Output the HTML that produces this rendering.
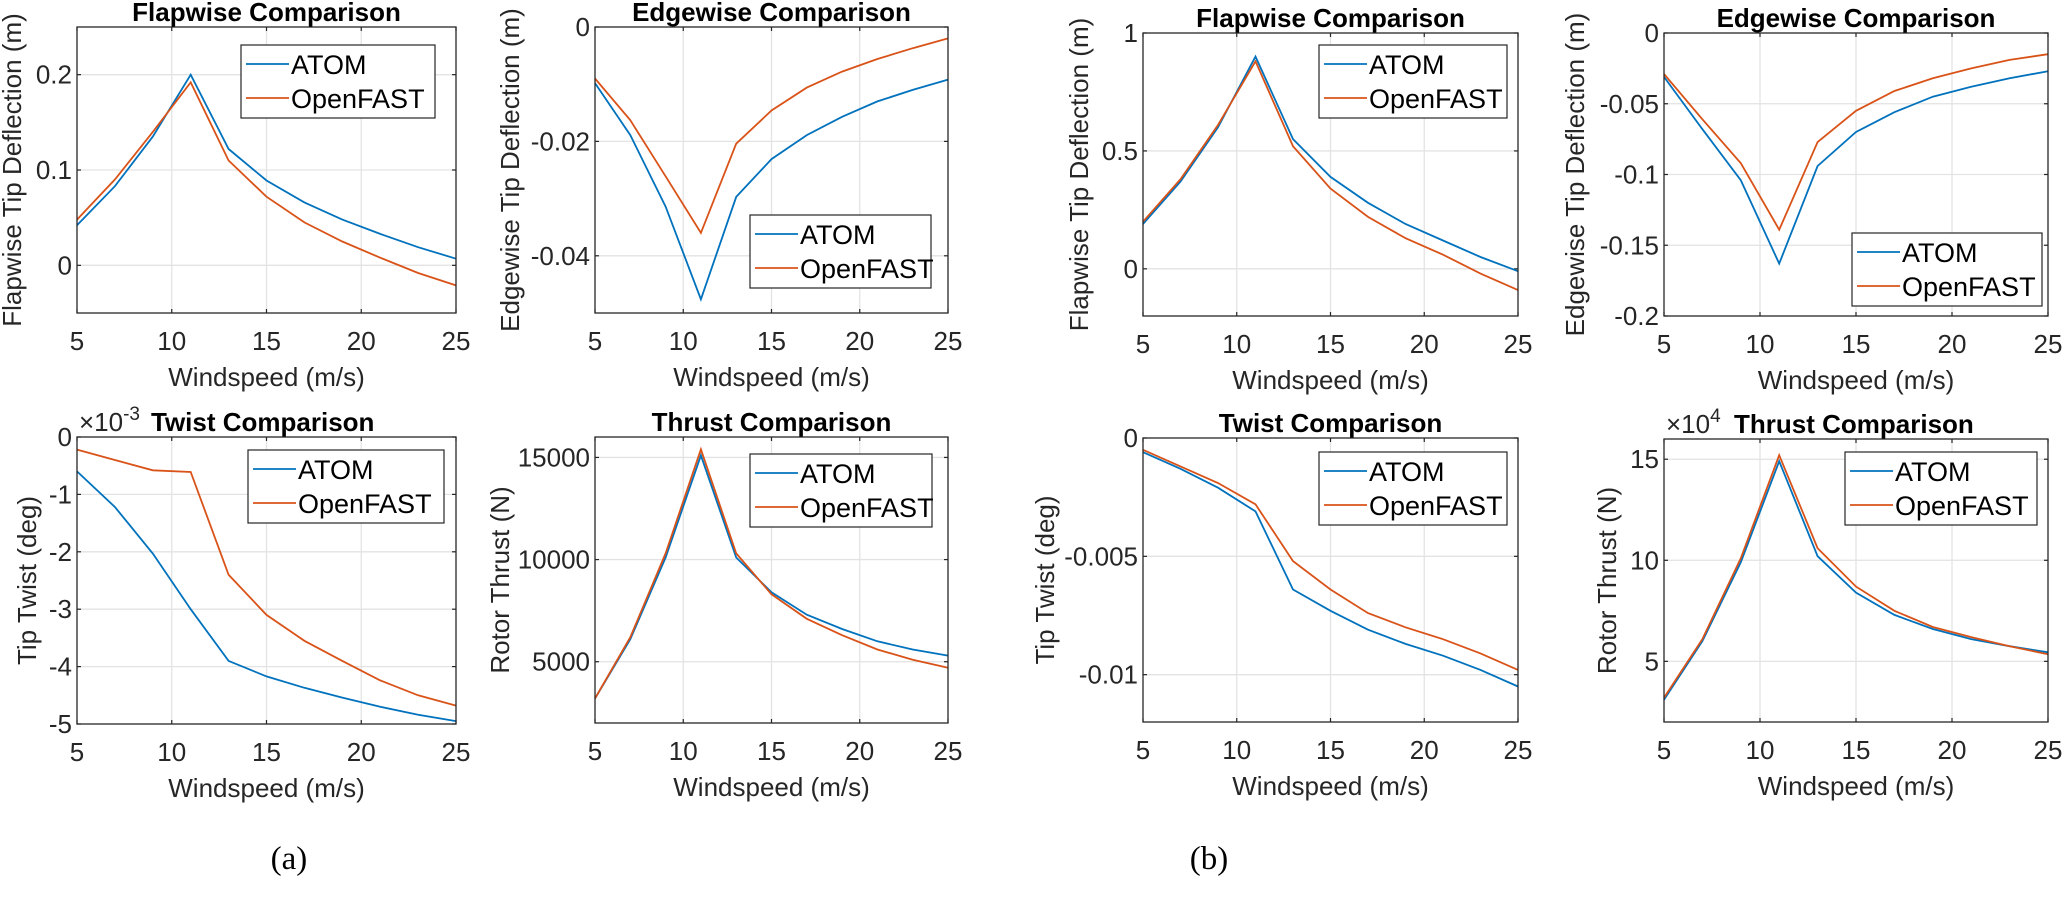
<!DOCTYPE html>
<html><head><meta charset="utf-8"><style>
html,body{margin:0;padding:0;background:#fff;}
svg{display:block;font-family:"Liberation Sans",Arial,sans-serif;}
</style></head><body>
<svg id="fig" width="2067" height="898" viewBox="0 0 2067 898" xmlns="http://www.w3.org/2000/svg">
<text x="289" y="869" font-family="Liberation Serif,serif" font-size="33" text-anchor="middle">(a)</text>
<text x="1209" y="869" font-family="Liberation Serif,serif" font-size="33" text-anchor="middle">(b)</text>
</svg>
<script>
const windspeed = [5,7,9,11,13,15,17,19,21,23,25];
const xTicks = [5,10,15,20,25];
// (a) flapwise
const flapA_atom = [0.042,0.083,0.135,0.200,0.122,0.089,0.066,0.048,0.033,0.019,0.007];
const flapA_of   = [0.048,0.090,0.140,0.192,0.110,0.072,0.045,0.025,0.008,-0.008,-0.021];
const flapA_ticks = [0,0.1,0.2];
// (a) edgewise
const edgeA_atom = [-0.0098,-0.0189,-0.0314,-0.0476,-0.0297,-0.0231,-0.0189,-0.0157,-0.013,-0.011,-0.0092];
const edgeA_of   = [-0.009,-0.0163,-0.0261,-0.036,-0.0204,-0.0146,-0.0106,-0.0078,-0.0056,-0.0037,-0.002];
const edgeA_ticks = [-0.04,-0.02,0];
// (a) twist (x1e-3)
const twistA_atom = [-0.6,-1.22,-2.03,-3.0,-3.9,-4.17,-4.37,-4.54,-4.70,-4.84,-4.95];
const twistA_of   = [-0.22,-0.4,-0.58,-0.61,-2.4,-3.1,-3.55,-3.9,-4.24,-4.5,-4.68];
const twistA_ticks = [-5,-4,-3,-2,-1,0];
// (a) thrust
const thrustA_atom = [3200,6100,10100,15100,10100,8400,7300,6600,6000,5600,5300];
const thrustA_of   = [3200,6200,10300,15400,10300,8300,7100,6300,5600,5100,4700];
const thrustA_ticks = [5000,10000,15000];
// (b) flapwise
const flapB_atom = [0.19,0.37,0.60,0.90,0.55,0.39,0.28,0.19,0.12,0.05,-0.01];
const flapB_of   = [0.20,0.38,0.61,0.88,0.52,0.34,0.22,0.13,0.06,-0.02,-0.09];
const flapB_ticks = [0,0.5,1];
// (b) edgewise
const edgeB_atom = [-0.031,-0.068,-0.104,-0.163,-0.094,-0.070,-0.056,-0.045,-0.038,-0.032,-0.027];
const edgeB_of   = [-0.029,-0.061,-0.092,-0.139,-0.077,-0.055,-0.041,-0.032,-0.025,-0.019,-0.015];
const edgeB_ticks = [-0.2,-0.15,-0.1,-0.05,0];
// (b) twist
const twistB_atom = [-0.0006,-0.0013,-0.0021,-0.0031,-0.0064,-0.0073,-0.0081,-0.0087,-0.0092,-0.0098,-0.0105];
const twistB_of   = [-0.0005,-0.0012,-0.0019,-0.0028,-0.0052,-0.0064,-0.0074,-0.0080,-0.0085,-0.0091,-0.0098];
const twistB_ticks = [-0.01,-0.005,0];
// (b) thrust (x1e4)
const thrustB_atom = [3.1,6.0,9.9,14.9,10.2,8.4,7.3,6.6,6.1,5.75,5.45];
const thrustB_of   = [3.2,6.1,10.1,15.2,10.6,8.7,7.5,6.7,6.2,5.75,5.35];
const thrustB_ticks = [5,10,15];

const NS="http://www.w3.org/2000/svg";
const svg=document.getElementById('fig');
function mk(tag,attrs,parent){const e=document.createElementNS(NS,tag);for(const k in attrs)e.setAttribute(k,attrs[k]);(parent||svg).appendChild(e);return e;}
const FS=26;

const panels=[
 {id:'flap-a',L:77,R:456,T:27,B:313,ymin:-0.05,ymax:0.25,ticks:flapA_ticks,a:flapA_atom,o:flapA_of,title:'Flapwise Comparison',ylab:'Flapwise Tip Deflection (m)',ylx:12,leg:[241,45,194]},
 {id:'edge-a',L:595,R:948,T:27,B:313,ymin:-0.05,ymax:0,ticks:edgeA_ticks,a:edgeA_atom,o:edgeA_of,title:'Edgewise Comparison',ylab:'Edgewise Tip Deflection (m)',ylx:510,leg:[750,215,181]},
 {id:'flap-b',L:1143,R:1518,T:33,B:316,ymin:-0.2,ymax:1,ticks:flapB_ticks,a:flapB_atom,o:flapB_of,title:'Flapwise Comparison',ylab:'Flapwise Tip Deflection (m)',ylx:1079,leg:[1319,45,188]},
 {id:'edge-b',L:1664,R:2048,T:33,B:316,ymin:-0.2,ymax:0,ticks:edgeB_ticks,a:edgeB_atom,o:edgeB_of,title:'Edgewise Comparison',ylab:'Edgewise Tip Deflection (m)',ylx:1575,leg:[1852,233,190]},
 {id:'twist-a',L:77,R:456,T:437,B:724,ymin:-5,ymax:0,ticks:twistA_ticks,a:twistA_atom,o:twistA_of,title:'Twist Comparison',ylab:'Tip Twist (deg)',ylx:27,leg:[248,450,196],exp:'-3',titleX:151},
 {id:'thrust-a',L:595,R:948,T:437,B:723,ymin:2000,ymax:16000,ticks:thrustA_ticks,a:thrustA_atom,o:thrustA_of,title:'Thrust Comparison',ylab:'Rotor Thrust (N)',ylx:500,leg:[750,454,182]},
 {id:'twist-b',L:1143,R:1518,T:438,B:722,ymin:-0.012,ymax:0,ticks:twistB_ticks,a:twistB_atom,o:twistB_of,title:'Twist Comparison',ylab:'Tip Twist (deg)',ylx:1045,leg:[1319,452,188]},
 {id:'thrust-b',L:1664,R:2048,T:439,B:722,ymin:2,ymax:16,ticks:thrustB_ticks,a:thrustB_atom,o:thrustB_of,title:'Thrust Comparison',ylab:'Rotor Thrust (N)',ylx:1607,leg:[1845,452,192],exp:'4',titleX:1734}
];

panels.forEach(p=>{
  const g=mk('g',{});
  
  
  const xs=v=>p.L+(v-5)/20*(p.R-p.L);
  const ys=v=>p.B-(v-p.ymin)/(p.ymax-p.ymin)*(p.B-p.T);
  mk('rect',{x:p.L,y:p.T,width:p.R-p.L,height:p.B-p.T,fill:'#fff'},g);
  xTicks.forEach(t=>{
    const x=xs(t);
    if(t>5&&t<25){const l=mk('line',{x1:x,x2:x,y1:p.T,y2:p.B,stroke:'#e3e3e3','stroke-width':1.3},g);}
    mk('line',{x1:x,x2:x,y1:p.B,y2:p.B-4,stroke:'#262626','stroke-width':1.2},g);
    mk('line',{x1:x,x2:x,y1:p.T,y2:p.T+4,stroke:'#262626','stroke-width':1.2},g);
    const tx=mk('text',{x:x,y:p.B+37,'font-size':FS,'text-anchor':'middle',fill:'#262626'},g);
    tx.textContent=t;
    
    
  });
  p.ticks.forEach(t=>{
    const y=ys(t);
    if(y>p.T+1&&y<p.B-1){const l=mk('line',{x1:p.L,x2:p.R,y1:y,y2:y,stroke:'#e3e3e3','stroke-width':1.3},g);}
    mk('line',{x1:p.L,x2:p.L+4,y1:y,y2:y,stroke:'#262626','stroke-width':1.2},g);
    mk('line',{x1:p.R,x2:p.R-4,y1:y,y2:y,stroke:'#262626','stroke-width':1.2},g);
    const ty=mk('text',{x:p.L-5,y:y+9,'font-size':FS,'text-anchor':'end',fill:'#262626'},g);
    ty.textContent=String(t);
    
    
  });
  const line=(arr,col,name)=>{
    const d=arr.map((v,i)=>(i?'L':'M')+xs(windspeed[i]).toFixed(1)+' '+ys(v).toFixed(1)).join(' ');
    const pa=mk('path',{d:d,fill:'none',stroke:col,'stroke-width':1.8},g);
    
    
  };
  line(p.a,'#0072bd','atom-line');
  line(p.o,'#d95319','openfast-line');
  mk('rect',{x:p.L,y:p.T,width:p.R-p.L,height:p.B-p.T,fill:'none',stroke:'#262626','stroke-width':1.3},g);
  const [lx,ly,lw]=p.leg;
  const lg=mk('g',{},g);
  
  
  mk('rect',{x:lx,y:ly,width:lw,height:73,fill:'#fff',stroke:'#262626','stroke-width':1.2},lg);
  [['ATOM','#0072bd',0],['OpenFAST','#d95319',1]].forEach(([n,c,i])=>{
    const cy=ly+19+i*34;
    mk('line',{x1:lx+5,x2:lx+48,y1:cy,y2:cy,stroke:c,'stroke-width':1.8},lg);
    const t=mk('text',{x:lx+50,y:cy+10,'font-size':27,fill:'#000'},lg);
    t.textContent=n;
    
    
  });
  const xl=mk('text',{x:(p.L+p.R)/2,y:p.B+73,'font-size':FS,'text-anchor':'middle',fill:'#262626'},g);
  xl.textContent='Windspeed (m/s)';
  
  
  const ymid=(p.T+p.B)/2;
  const yl=mk('text',{x:p.ylx,y:ymid,'font-size':FS,'text-anchor':'middle',fill:'#262626',transform:'rotate(-90 '+(p.ylx)+' '+ymid+')',dy:9},g);
  yl.textContent=p.ylab;
  
  
  let tt;
  if(p.exp){
    const ex=mk('text',{x:p.L+2,y:p.T-6,'font-size':FS,fill:'#262626'},g);
    ex.innerHTML='×10<tspan dy="-11" font-size="19">'+p.exp+'</tspan>';
    
    
    tt=mk('text',{x:p.titleX,y:p.T-6,'font-size':FS,'font-weight':'bold',fill:'#000'},g);
  } else {
    tt=mk('text',{x:(p.L+p.R)/2,y:p.T-6,'font-size':FS,'font-weight':'bold','text-anchor':'middle',fill:'#000'},g);
  }
  tt.textContent=p.title;
  
  
});
</script>
</body></html>
